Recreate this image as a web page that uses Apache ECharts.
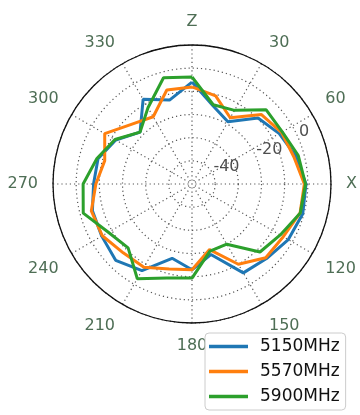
<!DOCTYPE html>
<html>
<head>
<meta charset="utf-8">
<script src="https://cdn.jsdelivr.net/npm/echarts@6/dist/echarts.min.js"></script>
<style>
html,body{margin:0;padding:0;background:#fff;}
#chart{width:360px;height:415px;}
</style>
</head>
<body>
<div id="chart"></div>
<script>
// Angles (degrees, clockwise from Z at top)
var angles = [0,15,30,45,60,75,90,105,120,135,150,165,180,195,210,225,240,255,270,285,300,315,330,345];
var seriesNames = ['5150MHz','5570MHz','5900MHz'];
var s5150 = [-6,-15,-19,-9.7,-6.5,-3.6,-0.8,-0.5,-2,-4.5,-5.7,-18.5,-13,-16.8,-6.8,-3.4,-5,-5.5,-7.5,-8,-12,-18.3,-7.8,-12.5];
var s5570 = [-8.1,-10.6,-17,-7.6,-5.4,-4.5,-1.5,-1.7,-4.5,-5,-10,-20.7,-13,-12,-8.5,-8,-5.3,-5,-8.5,-11,-6.5,-13.4,-16.5,-8];
var s5900 = [-3.8,-14.6,-13.3,-4.7,-5,-2.5,-1,-1.6,-6,-8.5,-20,-20,-9.4,-8,-2.8,-11,-8.3,-1.4,-3,-7.5,-11.6,-18.3,-12,-2.5];
var radialTicks = [-40,-20,0];
var angleTickLabels = {0:'Z',90:'X'};
var colors = ['#1f77b4','#ff7f0e','#2ca02c'];

function toPolar(vals){
  var out = vals.map(function(v,i){return [v, angles[i]];});
  out.push([vals[0], 360]);
  return out;
}
var font = 'DejaVu Sans';
var chart = echarts.init(document.getElementById('chart'), null, {renderer:'canvas'});
var lineSeries = [s5150,s5570,s5900].map(function(vals,i){
  return {
    name: seriesNames[i], type:'line', coordinateSystem:'polar',
    data: toPolar(vals), showSymbol:false, symbol:'none', smooth:false,
    lineStyle:{color:colors[i], width:3}, itemStyle:{color:colors[i]},
    animation:false, z:3+i
  };
});
lineSeries.push({
  type:'scatter', coordinateSystem:'polar', silent:true, symbolSize:0,
  data: radialTicks.map(function(t){return [t, 67.5];}),
  label:{show:true, position:[0,0], align:'left', verticalAlign:'bottom',
    formatter:function(p){return String(p.value[0]);},
    fontFamily:font, fontSize:16, color:'#222'},
  animation:false, z:10
});
chart.setOption({
  backgroundColor:'#fff',
  animation:false,
  color: colors,
  polar:{center:[192,184], radius:139},
  angleAxis:{
    type:'value', min:0, max:360, interval:30, startAngle:90, clockwise:true,
    axisLine:{show:true, lineStyle:{color:'#111', width:1.3}},
    axisTick:{show:false},
    axisLabel:{show:true, margin:15, fontFamily:font, fontSize:16, color:'#4e6e55',
      formatter:function(v){ if(v===360) return ''; return angleTickLabels[v] !== undefined ? angleTickLabels[v] : String(v);} },
    splitLine:{show:true, lineStyle:{color:'#555', width:1.2, type:[1.2,3]}}
  },
  radiusAxis:{
    type:'value', min:-50, max:10, interval:10,
    axisLine:{show:false}, axisTick:{show:false}, axisLabel:{show:false},
    splitLine:{show:true, lineStyle:{color:'#555', width:1.2, type:[1.2,3]}}
  },
  legend:{
    data: seriesNames, orient:'vertical', left:205, top:333,
    itemWidth:39, itemHeight:3.5, itemGap:8,
    padding:[5,6,5,4],
    backgroundColor:'rgba(255,255,255,0.85)', borderColor:'#ccc', borderWidth:1, borderRadius:4,
    textStyle:{fontFamily:font, fontSize:17, color:'#111', padding:[0,0,0,7]},
    icon:'rect', itemStyle:{borderWidth:0}
  },
  series: lineSeries
});
</script>
</body>
</html>
